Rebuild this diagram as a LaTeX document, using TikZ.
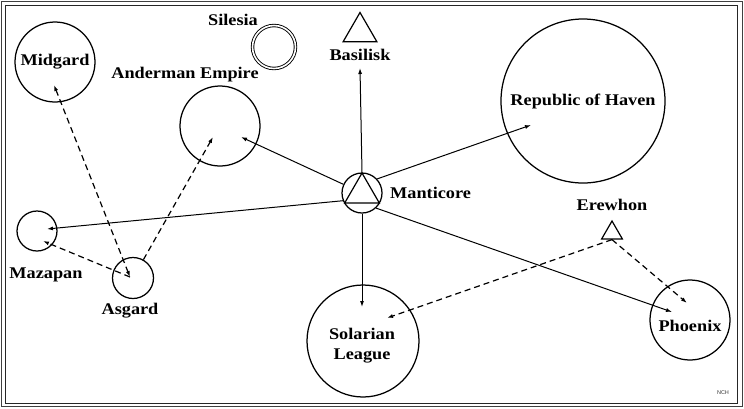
\documentclass[tikz,border=0pt]{standalone}
\usepackage{fontspec}
\setmainfont{Liberation Serif}
\newfontfamily\lblfont{Liberation Serif}[FakeStretch=1.12]
\newfontfamily\tagfont{Liberation Sans}
\usetikzlibrary{arrows.meta,shapes.geometric}

\begin{document}
\begin{tikzpicture}[x=1pt, y=-1pt,
        nation/.style={circle, draw, line width=1.25pt, inner sep=0pt},
        fleet/.style={regular polygon, regular polygon sides=3, draw, line width=1.2pt, inner sep=0pt},
        lbl/.style={inner sep=0pt, align=center, font=\lblfont\bfseries\fontsize{16.3}{20}\selectfont},
        link/.style={line width=1pt, -{Latex[length=6pt,width=4pt]}},
        claim/.style={line width=1.2pt, dash pattern=on 6pt off 4pt, -{Latex[length=6pt,width=4pt]}}
    ]
    \useasboundingbox (0,0) rectangle (744,408);
    % frame
    \draw[line width=1.3pt, black!75] (1.5,1.5) rectangle (742.5,406.5);
    \draw[line width=1pt, black!85] (5,5) rectangle (737,403);

    % star nations
    \node[nation, minimum size=80pt] (mid) at (55,62) {};
    \node[lbl] (mid-lbl) at (55,62) {Midgard};
    \node[nation, double, double distance=1.6pt, line width=0.9pt, minimum size=43pt] (sil) at (274,47) {};
    \node[lbl] (sil-lbl) at (233,20) {Silesia};
    \node[fleet, minimum size=39pt] (bas) at (360,32) {};
    \node[lbl] (bas-lbl) at (360,54.5) {Basilisk};
    \node[nation, minimum size=80pt] (and) at (220,126) {};
    \node[lbl] (and-lbl) at (185,74.5) {Anderman Empire};
    \node[nation, minimum size=40pt] (mant) at (362,193) {};
    \node[fleet, minimum size=40pt] (mant-tri) at (362,193) {};
    \node[lbl, anchor=west] (mant-lbl) at (390,192.5) {Manticore};
    \node[nation, minimum size=164pt] (hav) at (583,101) {};
    \node[lbl] (hav-lbl) at (583,101) {Republic of Haven};
    \node[fleet, minimum size=24pt] (ere) at (612,233) {};
    \node[lbl] (ere-lbl) at (612,205) {Erewhon};
    \node[nation, minimum size=80pt] (phx) at (690,320) {};
    \node[lbl] (phx-lbl) at (690,326) {Phoenix};
    \node[nation, minimum size=112pt] (sol) at (363,341) {};
    \node[lbl] (sol-lbl) at (362,345.5) {Solarian\\League};
    \node[nation, minimum size=40pt] (maz) at (37,231) {};
    \node[lbl] (maz-lbl) at (46,274.5) {Mazapan};
    \node[nation, minimum size=41pt] (asg) at (133,278) {};
    \node[lbl] (asg-lbl) at (130,311) {Asgard};
    \node[inner sep=0pt, black!80, font=\tagfont\fontsize{5.5}{6}\selectfont] (tag) at (723,393) {NCH};

    % arrow ends
    \coordinate (bas-in) at (360,68);
    \coordinate (and-in) at (241,137);
    \coordinate (hav-in) at (531,125);
    \coordinate (maz-in) at (47,229);
    \coordinate (sol-in) at (362,307);
    \coordinate (phx-in) at (672,312);
    \coordinate (sol-in2) at (387,318);
    \coordinate (phx-in2) at (687,303);
    \coordinate (mid-in) at (54,85);
    \coordinate (asg-in) at (130,277);
    \coordinate (and-in2) at (213,137);
    \coordinate (maz-in2) at (43,241);

    % Manticore links
    \draw[link] (mant.90) -- (bas-in);
    \draw[link] (mant.155) -- (and-in);
    \draw[link] (mant.43) -- (hav-in);
    \draw[link] (mant.202) -- (maz-in);
    \draw[link] (mant.270) -- (sol-in);
    \draw[link] (mant.313) -- (phx-in);

    % dashed claims
    \draw[claim] (ere.south) -- (sol-in2);
    \draw[claim] (ere.south) -- (phx-in2);
    \draw[claim, {Latex[length=6pt,width=4pt]}-{Latex[length=6pt,width=4pt]}] (mid-in) -- (asg-in);
    \draw[claim] (asg) -- (and-in2);
    \draw[claim] (asg-in) -- (maz-in2);
\end{tikzpicture}
\end{document}
